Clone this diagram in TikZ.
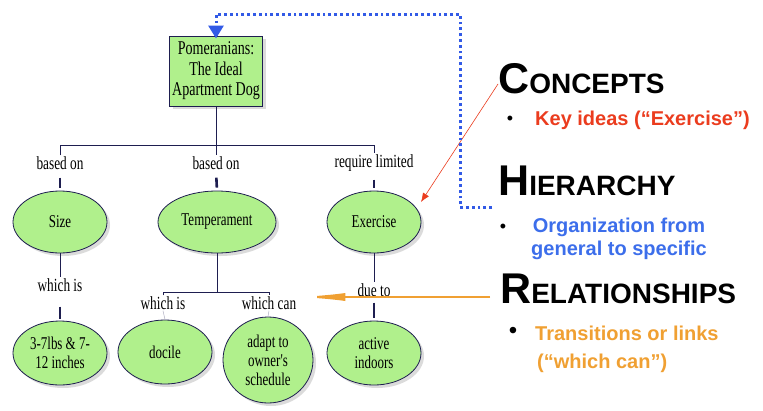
\documentclass[tikz,border=0pt]{standalone}
\usepackage{fontspec}
\setmainfont{Liberation Serif}
\newfontfamily\nodefont[FakeStretch=0.72]{Liberation Serif}
\newfontfamily\headfont{Liberation Sans}
\usetikzlibrary{shapes.geometric,shadows,arrows.meta}
\definecolor{nodegreen}{RGB}{176,240,140}
\definecolor{navyline}{RGB}{30,30,80}
\definecolor{dotblue}{RGB}{50,90,230}
\definecolor{keyred}{RGB}{235,60,30}
\definecolor{orgblue}{RGB}{60,110,235}
\definecolor{linkorange}{RGB}{240,160,50}
\tikzset{
  concept/.style={ellipse,draw=navyline,line width=0.8pt,fill=nodegreen,inner sep=0pt,align=center,
    font=\nodefont\fontsize{18}{19}\selectfont,drop shadow={shadow xshift=3pt,shadow yshift=-3pt,fill=gray!55}},
  rootbox/.style={rectangle,draw=navyline,line width=1pt,fill=nodegreen,minimum width=93pt,minimum height=70pt,
    align=center,inner sep=2pt,font=\nodefont\fontsize{19.5}{20.5}\selectfont,drop shadow={shadow xshift=3pt,shadow yshift=-3pt,fill=gray!55}},
  linklabel/.style={inner sep=1pt,font=\nodefont\fontsize{18.5}{15}\selectfont},
  conn/.style={draw=navyline,line width=0.8pt},
  tickmark/.style={draw=navyline,line width=2.6pt},
  faint/.style={draw=navyline!35,line width=0.5pt},
  heading/.style={anchor=base west,inner sep=0pt,font=\headfont\bfseries},
  bullettext/.style={anchor=west,inner sep=0pt,align=left,font=\headfont\bfseries\fontsize{20}{24}\selectfont},
  bulletdot/.style={inner sep=0pt,font=\headfont\fontsize{18}{18}\selectfont},
  bluedot/.style={draw=dotblue,line width=3pt,dash pattern=on 2.8pt off 3pt},
}
\begin{document}
\begin{tikzpicture}[x=1pt,y=-1pt]
\useasboundingbox[fill=white] (0,0) rectangle (763,410);

% root
\node[rootbox] (root) at (216,71) {Pomeranians:\\The Ideal\\Apartment Dog};

% first level labels
\node[linklabel] (l1) at (60,163) {based on};
\node[linklabel] (l2) at (216,163) {based on};
\node[linklabel] (l3) at (374,163) {require limited};
\coordinate (bus) at (216,145);

% first level concepts
\node[concept,minimum width=94pt,minimum height=62pt] (size) at (60,222) {Size};
\node[concept,minimum width=118pt,minimum height=62pt] (temp) at (217,222) {Temperament};
\node[concept,minimum width=94pt,minimum height=62pt] (exer) at (374,222) {Exercise};

% second level labels
\node[linklabel] (wi1) at (60,285) {which is};
\node[linklabel] (wi2) at (163,303) {which is};
\node[linklabel] (wc) at (269,303) {which can};
\node[linklabel] (due) at (374,290) {due to};
\coordinate (bus2) at (217,292);

% second level concepts
\node[concept,minimum width=94pt,minimum height=64pt] (lbs) at (60,353) {3-7lbs \& 7-\\12 inches};
\node[concept,minimum width=94pt,minimum height=64pt] (doc) at (165,352) {docile};
\node[concept,minimum width=90pt,minimum height=86pt] (adapt) at (268,360) {adapt to\\owner's\\schedule};
\node[concept,minimum width=94pt,minimum height=64pt] (act) at (374,353) {active\\indoors};

% connectors
\draw[conn] (root.south) -- (l2.north);
\draw[conn] (l1.north) -- (l1.north |- bus) -- (l3.north |- bus) -- (l3.north);
\draw[tickmark,shorten <=7pt,shorten >=3pt] (l1.south) -- (size.north);
\draw[tickmark,shorten <=7pt,shorten >=3pt] (l2.south) -- (temp.north);
\draw[tickmark,shorten <=7pt,shorten >=3pt] (l3.south) -- (exer.north);

\draw[conn] (size.south) -- (wi1.north);
\draw[conn] (exer.south) -- (due.north);
\draw[conn] (temp.south) -- (temp.south |- bus2);
\draw[conn] (wi2.north) -- (wi2.north |- bus2) -- (wc.north |- bus2) -- (wc.north);
\draw[tickmark,shorten <=14pt,shorten >=2pt] (wi1.south) -- (lbs.north);
\draw[tickmark,shorten <=5pt,shorten >=3pt] (due.south) -- (act.north);
\draw[faint] (wi2.south) -- (doc.north);
\draw[faint] (wc.south) -- (adapt.north);

% right side texts
\node[heading] (conc) at (498,93) {\fontsize{43}{43}\selectfont C\fontsize{28}{28}\selectfont ONCEPTS};
\node[bulletdot] (b1) at (510,120) {•};
\node[bullettext,text=keyred] (t1) at (535,120) {Key ideas (“Exercise”)};

\node[heading] (hier) at (498,195) {\fontsize{43}{43}\selectfont H\fontsize{28}{28}\selectfont IERARCHY};
\node[bulletdot] (b2) at (503,228) {•};
\node[bullettext,text=orgblue,align=center,font=\headfont\bfseries\fontsize{20}{23}\selectfont] (t2) at (531,239) {Organization from\\general to specific};

\node[heading] (rel) at (500,303) {\fontsize{43}{43}\selectfont R\fontsize{28}{28}\selectfont ELATIONSHIPS};
\node[bulletdot,font=\headfont\fontsize{24}{24}\selectfont] (b3) at (513,333) {•};
\node[bullettext,text=linkorange,font=\headfont\bfseries\fontsize{20}{28}\selectfont] (t3) at (535,349) {Transitions or links\\\hspace*{2pt}(“which can”)};

% annotation arrows
\coordinate (redstart) at (498,84);
\coordinate (redend) at (421,202);
\draw[keyred,line width=0.6pt,-{Latex[length=9pt,width=7pt]}] (redstart) -- (redend);

\coordinate (orgstart) at (490,297);
\draw[linkorange,line width=2.2pt,-{Latex[length=48pt,width=8pt]}] (orgstart) -- (wc.east |- orgstart);

\coordinate (hstart) at (492,207);
\coordinate (hcorner) at (460,14);
\draw[bluedot,-{Triangle[length=13pt,width=15pt]}] (hstart) -| (hcorner) -| ([yshift=-3pt]root.north);
\end{tikzpicture}
\end{document}
